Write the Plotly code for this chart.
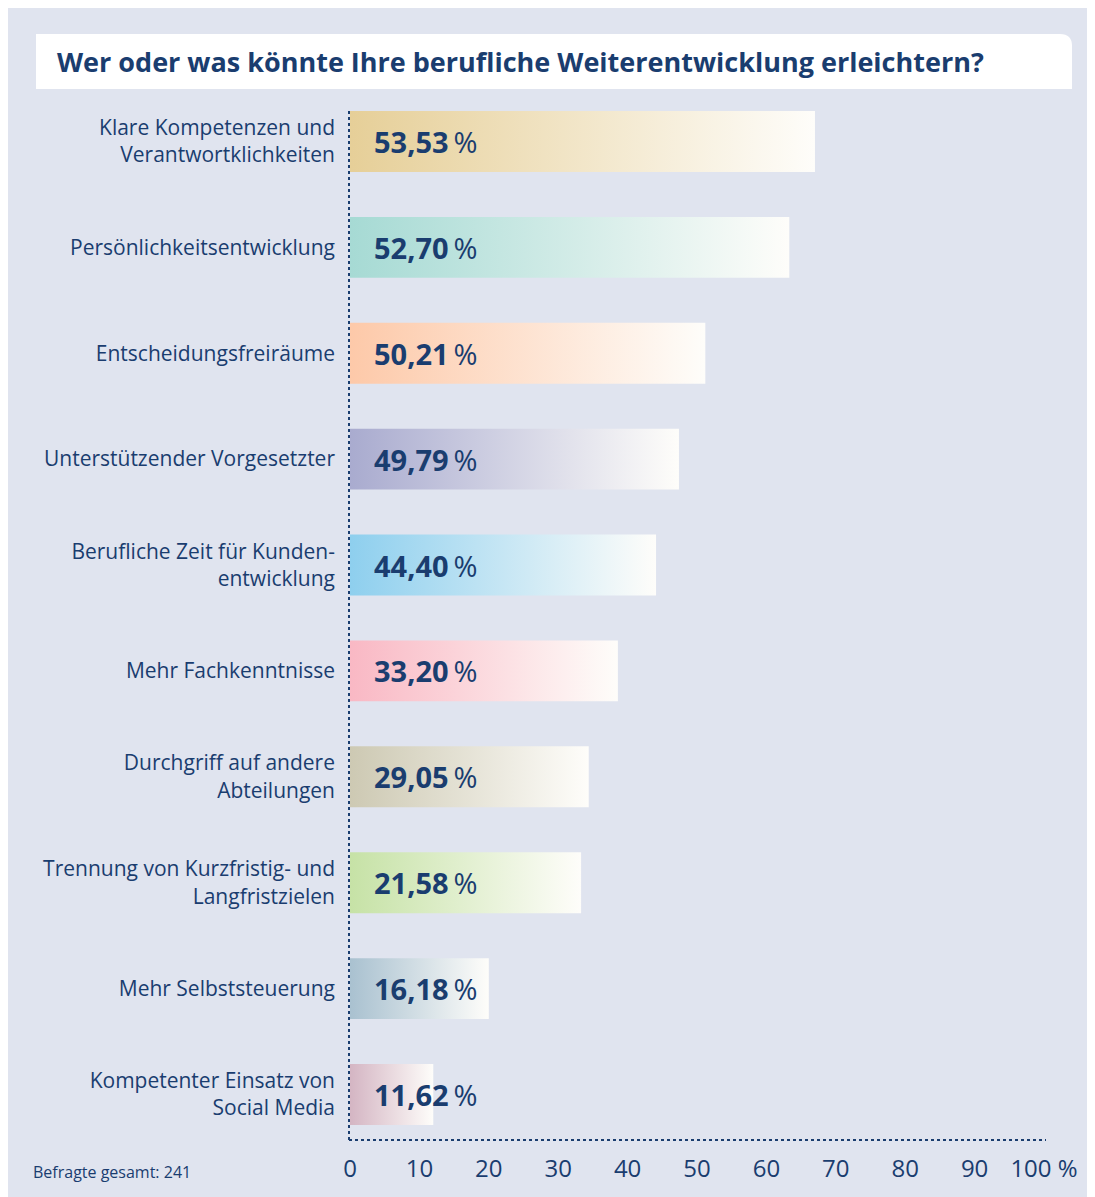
import plotly.graph_objects as go

# data
categories = [
    'Klare Kompetenzen und<br>Verantwortklichkeiten',
    'Persönlichkeitsentwicklung',
    'Entscheidungsfreiräume',
    'Unterstützender Vorgesetzter',
    'Berufliche Zeit für Kunden-<br>entwicklung',
    'Mehr Fachkenntnisse',
    'Durchgriff auf andere<br>Abteilungen',
    'Trennung von Kurzfristig- und<br>Langfristzielen',
    'Mehr Selbststeuerung',
    'Kompetenter Einsatz von<br>Social Media',
]
shares = ['53,53', '52,70', '50,21', '49,79', '44,40', '33,20', '29,05', '21,58', '16,18', '11,62']
# bar lengths as drawn against the 0-100 axis (the graphic is not to scale)
bar_lengths = [67.0, 63.3, 51.2, 47.4, 44.1, 38.6, 34.4, 33.3, 20.0, 12.0]
bar_colors = ['#e6cf98', '#a6dad4', '#fdc9a9', '#a9abcf', '#8ecfee',
              '#f9b8c4', '#cdc9b3', '#c6e2a6', '#a9c1d0', '#d4b5c3']
x_ticks = [0, 10, 20, 30, 40, 50, 60, 70, 80, 90, 100]
x_ticktext = ['0', '10', '20', '30', '40', '50', '60', '70', '80', '90', '100 %']

navy = '#1a3d6f'
panel = '#e0e4ef'
font = 'Open Sans'

# the page puts the figure 8px in from the top-left corner
OFF = 8
W, H = 1095, 1197 - OFF
L, R, T, B = 342, 59, 102, 57
PW, PH = W - L - R, H - T - B

def px(x):
    # screen x -> paper
    return (x - OFF - L) / PW

def py(y):
    # screen y -> paper
    return (H - B - (y - OFF)) / PH

fig = go.Figure()

half = 0.2875
for i, (v, c) in enumerate(zip(bar_lengths, bar_colors)):
    fig.add_trace(go.Scatter(
        x=[0, v, v, 0, 0], y=[i - half, i - half, i + half, i + half, i - half],
        mode='lines', line=dict(width=0), fill='toself',
        fillgradient=dict(type='horizontal', colorscale=[[0, c], [1, '#fefdfa']]),
        hoverinfo='skip', showlegend=False))
    fig.add_annotation(x=3.2, y=i, xanchor='left', yanchor='middle', showarrow=False,
                       text='<b>' + shares[i] + '</b>\u2009%',
                       font=dict(family=font, size=29, color=navy))

shapes = [
    # title box with rounded top-right corner
    dict(type='path', xref='paper', yref='paper', layer='below', fillcolor='white', line_width=0,
         path='M {a},{b} L {a},{t} L {c},{t} Q {r},{t} {r},{tt} L {r},{b} Z'.format(
             a=px(36), b=py(89), t=py(34), c=px(1060), r=px(1072), tt=py(46))),
    # dotted axes
    dict(type='line', xref='paper', yref='paper', x0=px(349), x1=px(349), y0=0, y1=1,
         line=dict(color=navy, width=2, dash='dot')),
    dict(type='line', xref='paper', yref='paper', x0=px(349), x1=px(1046), y0=0, y1=0,
         line=dict(color=navy, width=2, dash='dot')),
]

fig.add_annotation(xref='paper', yref='paper', x=px(55), y=py(61), xanchor='left', yanchor='middle',
                   showarrow=False, text='<b>Wer oder was könnte Ihre berufliche Weiterentwicklung erleichtern?</b>',
                   font=dict(family=font, size=27, color=navy))
fig.add_annotation(xref='paper', yref='paper', x=px(31), y=py(1172), xanchor='left', yanchor='middle',
                   showarrow=False, text='Befragte gesamt: 241',
                   font=dict(family=font, size=16, color=navy))

fig.update_layout(
    width=W, height=H,
    margin=dict(l=L, r=R, t=T, b=B),
    paper_bgcolor=panel, plot_bgcolor=panel,
    shapes=shapes,
    showlegend=False,
    xaxis=dict(range=[0, 100], tickvals=x_ticks, ticktext=x_ticktext, showgrid=False,
               zeroline=False, showline=False, ticks='', ticklabelstandoff=12,
               tickfont=dict(family=font, size=24, color=navy), fixedrange=True),
    yaxis=dict(range=[9.43, -0.297], tickvals=list(range(len(categories))), ticktext=categories,
               showgrid=False, zeroline=False, showline=False, ticks='', ticklabelstandoff=14,
               tickfont=dict(family=font, size=21, color=navy), fixedrange=True),
)

fig.write_html('out.html')
